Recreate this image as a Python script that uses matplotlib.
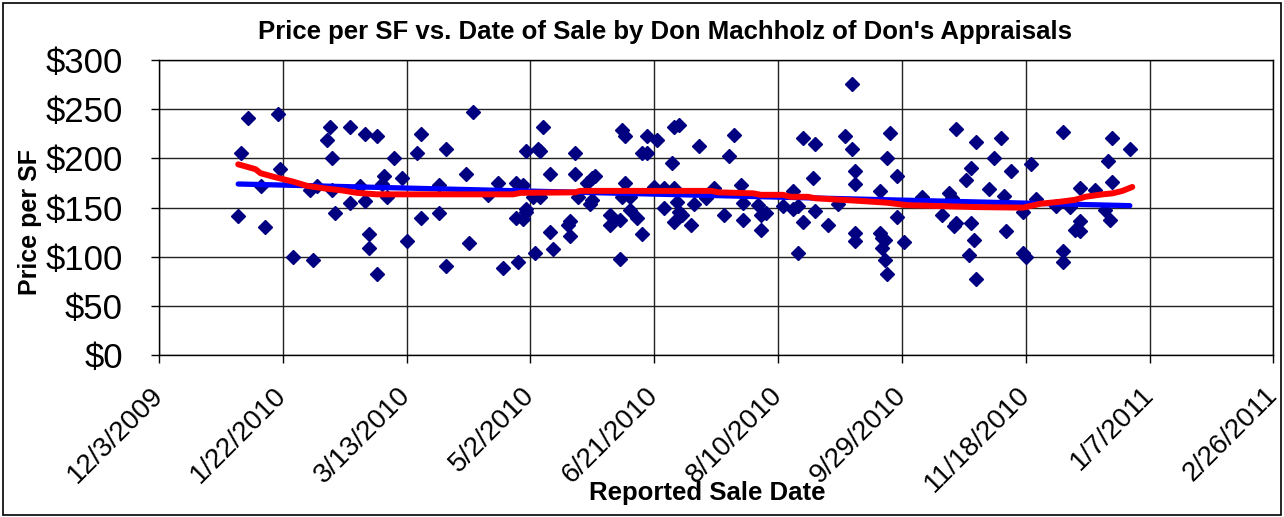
import datetime as dt
import numpy as np
import matplotlib
matplotlib.use("Agg")
import matplotlib.pyplot as plt
import matplotlib.dates as mdates
from matplotlib.ticker import FuncFormatter, MultipleLocator

plt.rcParams['font.family'] = ['Liberation Sans', 'DejaVu Sans']

# ---- data (days after 12/3/2009, $ per SF) ----
start_date = dt.datetime(2009, 12, 3)

sale_day = [32, 33, 36, 41, 43, 48, 49, 54, 61, 62, 64, 68, 69, 70, 70, 71, 77, 77,
            81, 83, 83, 85, 85, 88, 88, 91, 90, 92, 95, 98, 100, 104, 106, 106, 113,
            113, 116, 116, 124, 125, 127, 133, 137, 139, 144, 144, 145, 147, 147, 148,
            148, 148, 152, 153, 154, 155, 154, 151, 158, 158, 159, 165, 166, 166, 168,
            168, 169, 173, 175, 176, 174, 175, 182, 182, 186, 186, 187, 188, 188, 187,
            190, 190, 193, 195, 197, 197, 195, 200, 201, 204, 204, 207, 208, 208, 209,
            208, 210, 210, 211, 216, 215, 218, 221, 224, 228, 230, 232, 235, 236, 236,
            242, 243, 243, 245, 252, 256, 256, 258, 258, 260, 260, 264, 265, 265, 270,
            274, 277, 280, 280, 281, 281, 281, 281, 291, 291, 292, 293, 292, 293, 294,
            294, 295, 298, 298, 301, 308, 316, 319, 320, 321, 322, 322, 326, 328, 328,
            329, 327, 330, 330, 335, 337, 340, 341, 342, 344, 349, 349, 350, 352, 354,
            362, 365, 365, 365, 368, 372, 372, 370, 372, 378, 382, 383, 384, 385, 385,
            392]
price_sf = [141, 206, 241, 172, 130, 245, 189, 100, 168, 97, 172, 219, 232, 200, 168,
            145, 232, 155, 172, 225, 157, 123, 109, 223, 83, 182, 174, 161, 200, 180,
            116, 206, 225, 139, 173, 145, 210, 91, 184, 114, 247, 163, 175, 89, 175,
            139, 95, 173, 138, 149, 208, 146, 104, 210, 208, 232, 161, 161, 184, 125,
            108, 132, 136, 121, 205, 184, 161, 175, 180, 182, 154, 158, 143, 132, 137,
            98, 229, 223, 175, 161, 161, 148, 139, 206, 206, 223, 123, 171, 219, 150,
            170, 195, 170, 232, 156, 135, 234, 146, 143, 154, 132, 213, 160, 170, 143,
            202, 224, 173, 155, 137, 153, 143, 127, 145, 152, 167, 149, 152, 104, 135,
            221, 180, 215, 147, 132, 154, 223, 276, 210, 187, 174, 124, 116, 167, 124,
            119, 117, 109, 97, 83, 200, 226, 140, 182, 115, 161, 143, 165, 160, 131,
            134, 230, 178, 190, 134, 117, 102, 217, 78, 169, 200, 221, 162, 126, 187,
            146, 104, 100, 194, 159, 152, 227, 106, 95, 151, 170, 136, 127, 126, 168,
            148, 197, 137, 176, 221, 210]

# linear trend (blue) end points
lin_day = [32, 392]
lin_price = [174, 152]

# moving-average trend (red)
ma_day = [32, 39, 41, 46, 54, 60, 67, 74, 80, 88, 100, 120, 143, 146, 168, 170, 200,
          223, 226, 240, 243, 252, 255, 262, 265, 282, 294, 302, 316, 331, 349, 356,
          364, 370, 374, 381, 385, 389, 393]
ma_price = [194, 189, 185, 181.5, 176.5, 172, 169.5, 167.5, 165, 163.5, 163.5, 163.5,
            163.5, 165, 165.5, 167, 167, 167, 165.5, 164.5, 163, 163, 161, 161, 159.5,
            157, 155, 152.5, 151.5, 150.5, 150, 154, 156, 158, 161, 163.5, 164.5, 167, 171]

tick_step_days = 50
n_ticks = 10


def to_dates(days):
    return [start_date + dt.timedelta(days=d) for d in days]


fig = plt.figure(figsize=(12.84, 5.17), dpi=100)
ax = fig.add_axes([0.1238, 0.3128, 0.8680, 0.5712])

ax.plot(to_dates(sale_day), price_sf, linestyle='none', marker='D', markersize=7.5,
        color='#000080', zorder=3)
ax.plot(to_dates(lin_day), lin_price, color='#0000ff', linewidth=3.8,
        solid_capstyle='round', zorder=4)
ax.plot(to_dates(ma_day), ma_price, color='#ff0000', linewidth=4.3,
        solid_capstyle='round', zorder=5)

ticks = to_dates([k * tick_step_days for k in range(n_ticks)])
ax.set_xticks(ticks)
ax.xaxis.set_major_formatter(FuncFormatter(
    lambda v, p: (lambda d: f"{d.month}/{d.day}/{d.year}")(mdates.num2date(v))))
ax.set_xlim(ticks[0], ticks[-1])
ax.set_ylim(0, 300)
ax.yaxis.set_major_locator(MultipleLocator(50))
ax.yaxis.set_major_formatter(FuncFormatter(lambda v, p: f"${v:.0f}"))

ax.grid(True, color='#222222', linewidth=1.0)
ax.set_axisbelow(True)
for s in ax.spines.values():
    s.set_color('black')
    s.set_linewidth(1.0)

ax.tick_params(axis='y', labelsize=25, length=6, width=1, pad=20)
ax.tick_params(axis='x', labelsize=20, length=6, width=1, pad=20)
for lab in ax.get_xticklabels():
    lab.set_rotation(45)
    lab.set_ha('right')
    lab.set_va('center')
    lab.set_rotation_mode('anchor')

fig.text(0.518, 0.938, "Price per SF vs. Date of Sale by Don Machholz of Don's Appraisals",
         ha='center', va='center', fontsize=18.5, fontweight='bold')
fig.text(0.0234, 0.571, "Price per SF", rotation=90, ha='center', va='center',
         fontsize=18, fontweight='bold')
fig.text(0.551, 0.046, "Reported Sale Date", ha='center', va='center',
         fontsize=18.5, fontweight='bold')

fig.add_artist(plt.Rectangle((0.002, 0.004), 0.996, 0.99, transform=fig.transFigure,
                             fill=False, edgecolor='black', linewidth=1.2))

fig.savefig("out.png", dpi=100)
